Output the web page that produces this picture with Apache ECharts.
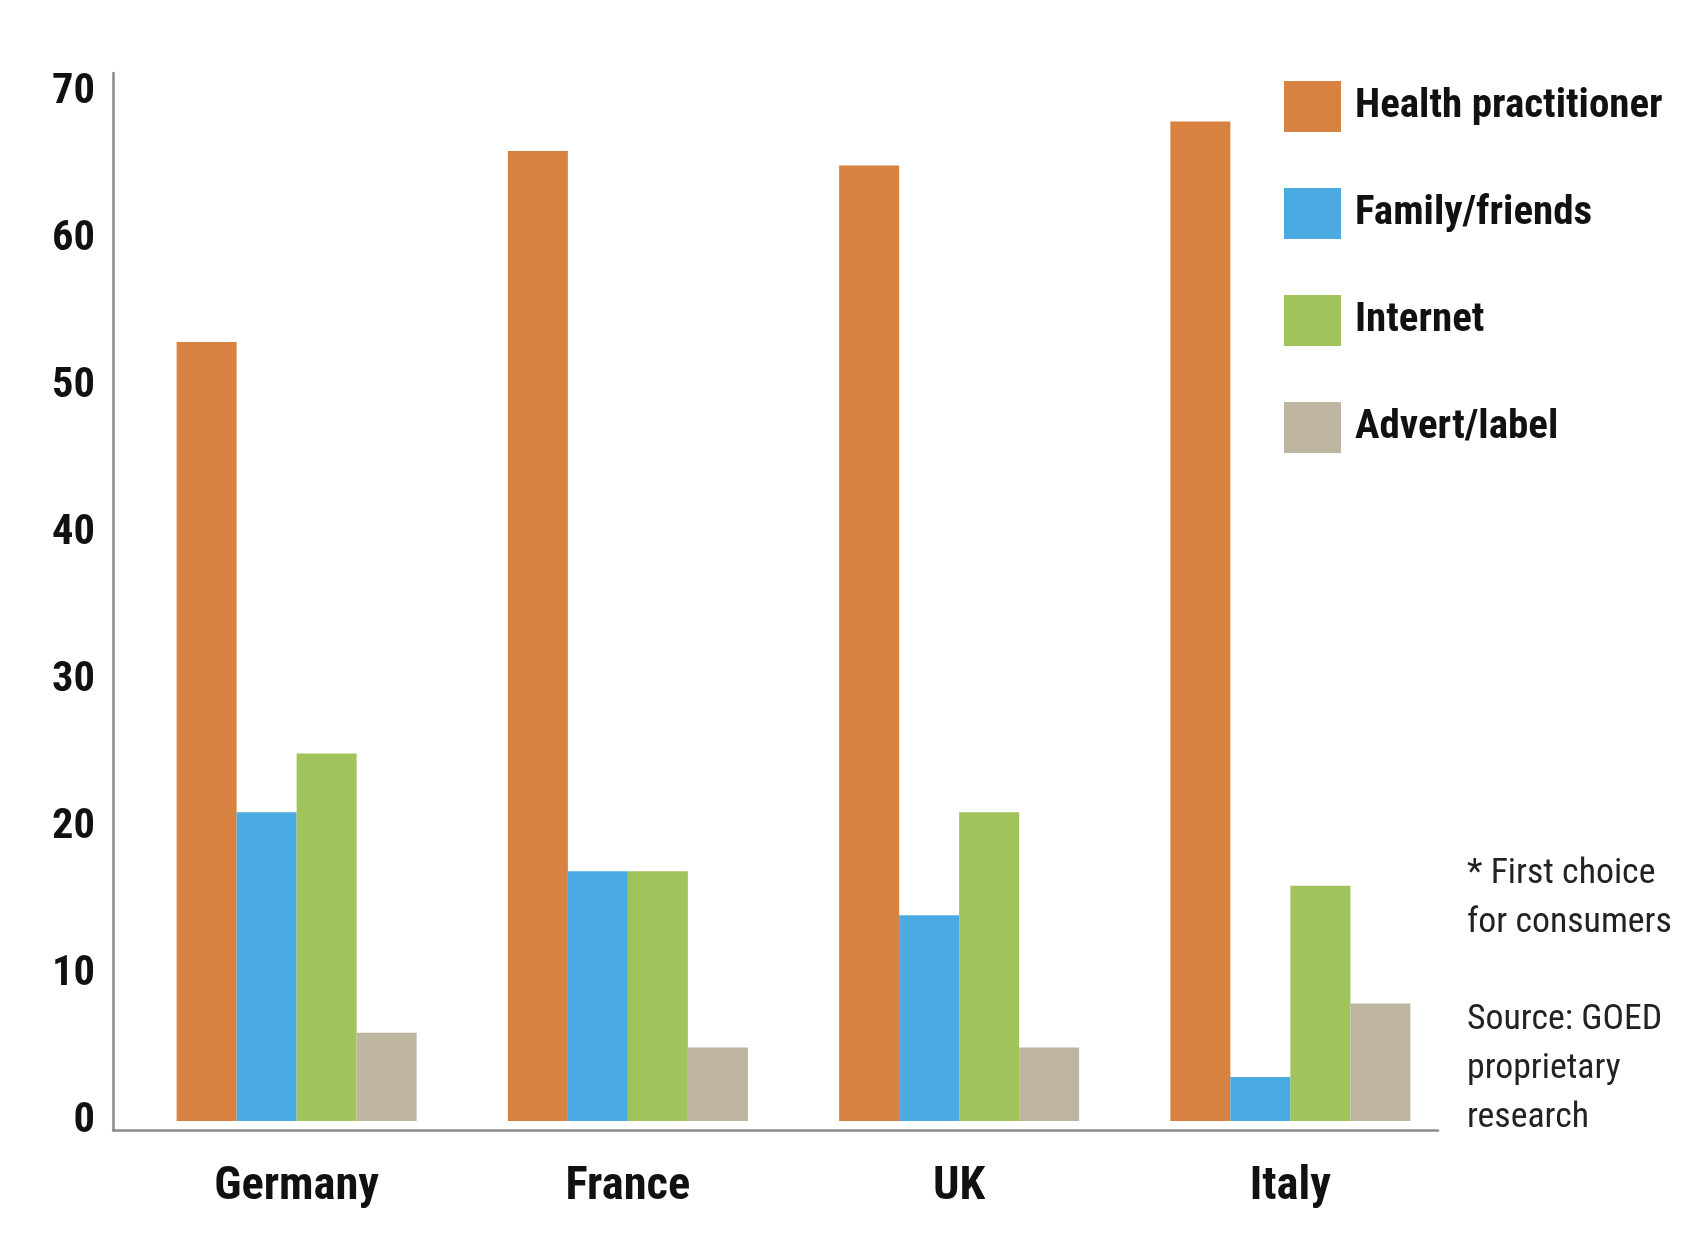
<!DOCTYPE html>
<html>
<head>
<meta charset="utf-8">
<script src="https://cdn.jsdelivr.net/npm/echarts@6/dist/echarts.min.js"></script>
<style>
html,body{margin:0;padding:0;background:#fff;}
#chart{width:1700px;height:1238px;}
</style>
</head>
<body>
<div id="chart"></div>
<script>
const categories = ['Germany', 'France', 'UK', 'Italy'];
const seriesNames = ['Health practitioner', 'Family/friends', 'Internet', 'Advert/label'];
const healthPractitioner = [53, 66, 65, 68];
const familyFriends = [21, 17, 14, 3];
const internet = [25, 17, 21, 16];
const advertLabel = [6, 5, 5, 8];
const colors = ['#D88242', '#4BAAE2', '#A0C35C', '#BDB5A0'];
const noteText1 = '* First choice\nfor consumers';
const noteText2 = 'Source: GOED\nproprietary\nresearch';

// pick the narrowest available condensed face
const ctx = document.createElement('canvas').getContext('2d');
function hasFont(f) {
  const t = 'mmmmmmmmmmlli WWW 0123456789';
  for (const base of ['monospace', 'serif']) {
    ctx.font = '40px ' + base; const a = ctx.measureText(t).width;
    ctx.font = "40px '" + f + "', " + base; const b = ctx.measureText(t).width;
    if (Math.abs(a - b) > 0.5) return true;
  }
  return false;
}
const candidates = ['Roboto Condensed', 'Liberation Sans Narrow', 'Arial Narrow', 'Open Sans Condensed', 'DejaVu Sans Condensed', 'Liberation Sans'];
const FACE = candidates.find(hasFont) || 'sans-serif';
const FONT = "'" + FACE + "', sans-serif";
function fit(text, weight, target, maxSize) {
  ctx.font = weight + ' 100px ' + FONT;
  const w = ctx.measureText(text).width;
  return Math.min(maxSize, Math.floor(target / w * 100 * 10) / 10);
}
const yFs = fit('70', 'bold', 43, 45);
const xFs = fit('Germany', 'bold', 165, 47);
const legFs = fit('Health practitioner', 'bold', 310, 41);
const noteFs = fit('for consumers', 'normal', 205, 39);

const values = [healthPractitioner, familyFriends, internet, advertLabel];

const chart = echarts.init(document.getElementById('chart'), null, {renderer: 'canvas'});
chart.setOption({
  backgroundColor: '#ffffff',
  animation: false,
  title: [
    {text: noteText1, left: 1467, top: 850, padding: 0,
     textStyle: {fontFamily: FONT, fontSize: noteFs, fontWeight: 'normal', color: '#222', lineHeight: 49}},
    {text: noteText2, left: 1467, top: 996, padding: 0,
     textStyle: {fontFamily: FONT, fontSize: noteFs, fontWeight: 'normal', color: '#222', lineHeight: 49}}
  ],
  legend: {
    orient: 'vertical', left: 1284, top: 81, padding: 0,
    itemWidth: 57, itemHeight: 51, itemGap: 56,
    icon: 'rect',
    data: seriesNames,
    textStyle: {fontFamily: FONT, fontSize: legFs, fontWeight: 'bold', color: '#111', padding: [0, 0, 0, 9]}
  },
  grid: [
    {left: 113, right: 262, top: 73, bottom: 108},
    {left: 131, right: 244, top: 73, bottom: 117}
  ],
  xAxis: [
    {type: 'category', gridIndex: 0, data: categories,
     axisLine: {show: true, lineStyle: {color: '#8a8a8c', width: 2.5}},
     axisTick: {show: false}, axisLabel: {show: false}, splitLine: {show: false}},
    {type: 'category', gridIndex: 1, data: categories,
     axisLine: {show: false}, axisTick: {show: false},
     axisLabel: {margin: Math.round(66 - xFs / 2), lineHeight: xFs, fontFamily: FONT, fontSize: xFs, fontWeight: 'bold', color: '#111'}}
  ],
  yAxis: [
    {type: 'value', gridIndex: 0, min: 0, max: 1,
     axisLine: {show: true, lineStyle: {color: '#8a8a8c', width: 2.5}},
     axisTick: {show: false}, axisLabel: {show: false}, splitLine: {show: false}},
    {type: 'value', gridIndex: 1, min: 0, max: 71.3, interval: 10,
     axisLine: {show: false}, axisTick: {show: false}, splitLine: {show: false},
     axisLabel: {margin: 36, fontFamily: FONT, fontSize: yFs, fontWeight: 'bold', color: '#111',
       formatter: v => (v % 10 === 0 ? String(v) : '')}}
  ],
  series: seriesNames.map((name, i) => ({
    name: name,
    type: 'bar',
    xAxisIndex: 1, yAxisIndex: 1,
    data: values[i],
    barWidth: 60,
    barGap: '0%',
    itemStyle: {color: colors[i]}
  }))
});
</script>
</body>
</html>
